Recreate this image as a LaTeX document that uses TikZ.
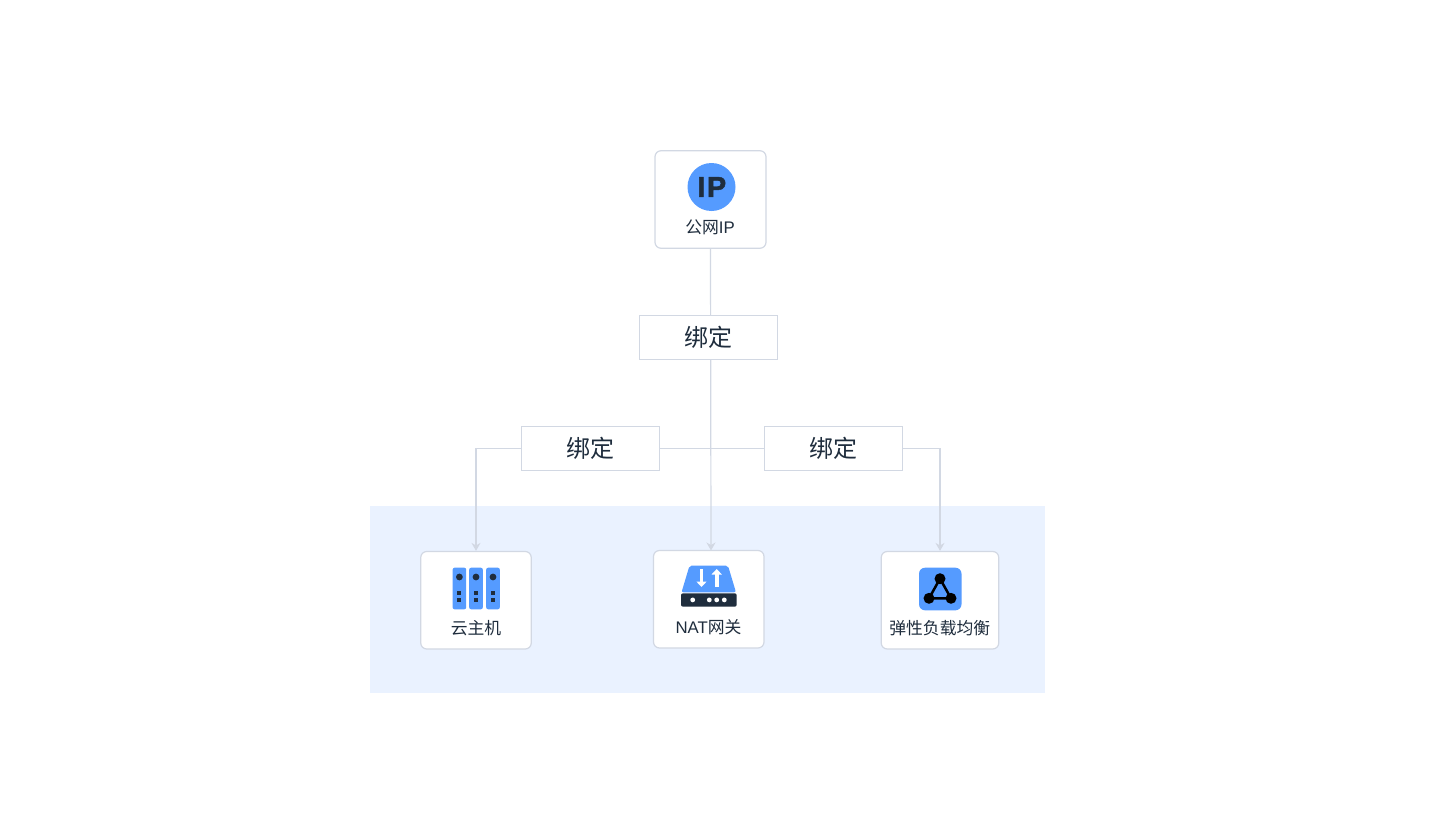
\documentclass[tikz,border=0pt]{standalone}
\usepackage{fontspec}
\setmainfont{Noto Sans CJK SC}
\newfontfamily\latinfont{Liberation Sans}
\newfontfamily\iconfont[FakeBold=1.6]{Liberation Sans Bold}
\usetikzlibrary{arrows.meta}
\definecolor{iconblue}{HTML}{559BFF}
\definecolor{icondark}{HTML}{1F2D3D}
\definecolor{linegray}{HTML}{D2D8E3}
\definecolor{bandblue}{HTML}{EAF2FF}
\tikzset{
  cardbox/.style={draw=linegray, line width=1.2pt, fill=white, rounded corners=6pt, inner sep=0pt, minimum height=97.5pt},
  bindbox/.style={draw=linegray, line width=1.2pt, fill=white, inner sep=0pt, minimum width=138pt, minimum height=44pt, text=icondark, font=\fontsize{24}{28}\selectfont},
  cardtext/.style={inner sep=0pt, text=icondark, font=\fontsize{16.8}{20}\selectfont},
  flowline/.style={draw=linegray, line width=1.2pt},
  flowarrow/.style={flowline, -{Stealth[length=8pt,width=9pt]}},
}

\begin{document}
\begin{tikzpicture}[x=1pt,y=-1pt]
\useasboundingbox (0,0) rectangle (1441,835);
\fill[bandblue] (369.5,505.5) rectangle (1045,693);

\node[cardbox, minimum width=111pt] (ip) at (710.5,199.5) {};
\node[cardbox, minimum width=110.5pt] (vm) at (476,600.25) {};
\node[cardbox, minimum width=110.5pt] (nat) at (708.75,599.25) {};
\node[cardbox, minimum width=117.5pt] (lb) at (940,600.25) {};

% connectors, the bind boxes sit on top of them
\coordinate (natin) at (711,550.5);
\coordinate (hub) at (711,448.5);
\draw[flowarrow] (ip.south) -- (natin);
\draw[flowarrow] (hub) -| (vm.north);
\draw[flowarrow] (hub) -| (lb.north);

\node[bindbox] (bindtop) at (708.8,337.5) {绑定};
\node[bindbox] (bindleft) at (590.75,448.5) {绑定};
\node[bindbox] (bindright) at (833.25,448.5) {绑定};

\node[cardtext] (iptext) at (710,227) {公网{\latinfont IP}};
\node[cardtext] (vmtext) at (476,628) {云主机};
\node[cardtext] (nattext) at (708.5,627) {{\latinfont NAT}网关};
\node[cardtext] (lbtext) at (939.75,628) {弹性负载均衡};

% public ip icon
\fill[iconblue] (711.5,187) circle (24);
\node[inner sep=0pt, text=icondark, font=\iconfont\fontsize{29}{29}\selectfont] (iplogo) at (711.8,187) {I\kern1.5pt P};

% server icon
\foreach \x in {459.4,476,493}{
  \fill[iconblue, rounded corners=2pt] (\x-6.8,567.7) rectangle (\x+6.8,609.3);
  \fill[icondark] (\x,577) circle (3.4);
  \fill[icondark] (\x-2,591.3) rectangle (\x+2,595.3);
  \fill[icondark] (\x-2,598.3) rectangle (\x+2,602.3);
}

% nat icon
\fill[iconblue, rounded corners=2pt] (689.5,565.7) -- (728,565.7) -- (736,592.3) -- (681.5,592.3) -- cycle;
\fill[icondark, rounded corners=2pt] (681,593.3) rectangle (736.7,606.7);
\foreach \x in {692.7,709.3,716.7,724.3}{
  \fill[white] (\x,599.9) circle (2.4);
}
\draw[white, line width=3.8pt, -{Triangle[length=5.5pt,width=10pt]}] (701.5,569.3) -- (701.5,587);
\draw[white, line width=3.8pt, -{Triangle[length=5.5pt,width=10pt]}] (716.7,586.7) -- (716.7,569);

% load balancer icon
\fill[iconblue, rounded corners=6pt] (919,567.7) rectangle (961.5,610.3);
\draw[black, line width=2.5pt] (940,578.7) -- (929,598.3) -- (951,598.3) -- cycle;
\foreach \p in {(940,578.7),(929,598.3),(951,598.3)}{
  \fill[black] \p circle (5.5);
}
\end{tikzpicture}
\end{document}
